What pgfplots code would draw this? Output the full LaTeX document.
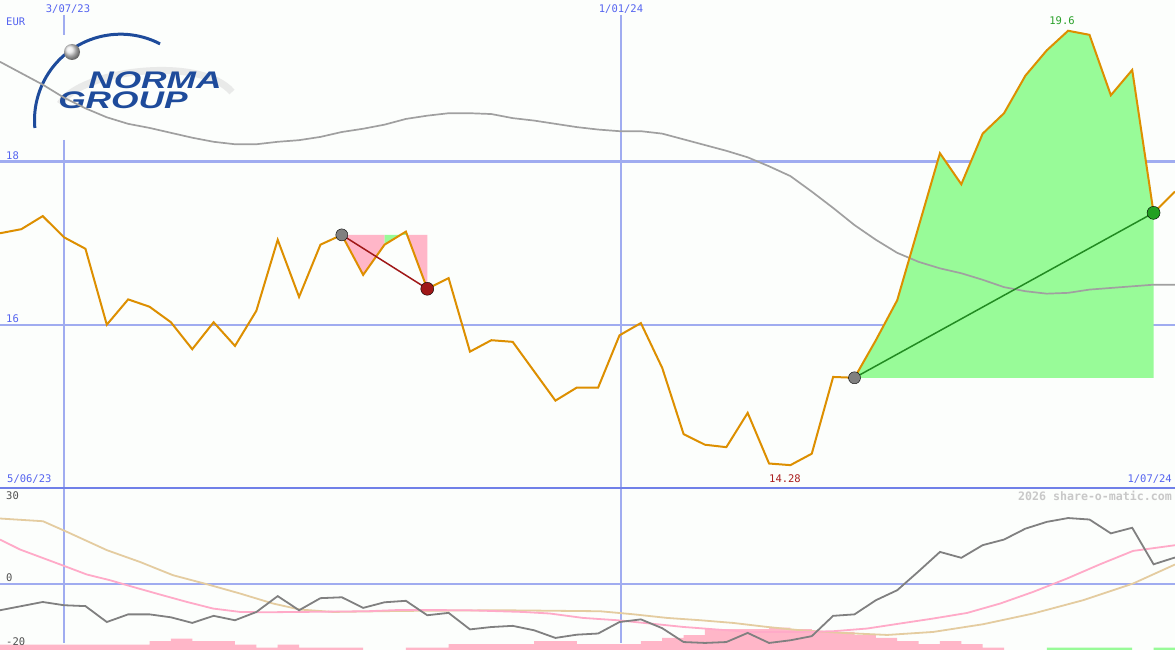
\documentclass[border=0pt]{standalone}
\usepackage{pgfplots}
\pgfplotsset{compat=1.18}
\usepackage{pgfplotstable}
\usepackage{fontspec}
\setmainfont{DejaVu Sans}
\newfontfamily\mono{DejaVu Sans Mono}
\newfontfamily\logofont{Liberation Sans}
\definecolor{price}{RGB}{221,143,0}
\definecolor{ma}{RGB}{160,160,160}
\definecolor{gridl}{RGB}{160,172,240}
\definecolor{sep}{RGB}{112,128,232}
\definecolor{lbl}{RGB}{85,100,240}
\definecolor{gfill}{RGB}{152,251,152}
\definecolor{pfill}{RGB}{255,182,200}
\definecolor{gline}{RGB}{34,139,34}
\definecolor{gdot}{RGB}{34,160,34}
\definecolor{rline}{RGB}{160,24,24}
\definecolor{osc}{RGB}{128,128,128}
\definecolor{pinkl}{RGB}{255,170,200}
\definecolor{tanl}{RGB}{228,204,160}
\definecolor{logob}{RGB}{30,75,155}
\definecolor{bg}{RGB}{252,254,252}
\definecolor{lowred}{RGB}{170,30,30}
\definecolor{higreen}{RGB}{40,160,40}
\definecolor{wm}{RGB}{200,200,200}
\definecolor{lowlbl}{RGB}{80,80,80}

\pgfplotstableread{
i p m o
0 17.12 19.22 -9.0
1 17.17 19.08 -7.6
2 17.33 18.94 -6.2
3 17.07 18.78 -7.3
4 16.93 18.65 -7.6
5 16.00 18.54 -13.0
6 16.31 18.46 -10.4
7 16.22 18.41 -10.4
8 16.03 18.35 -11.4
9 15.70 18.29 -13.3
10 16.03 18.24 -10.9
11 15.74 18.21 -12.4
12 16.17 18.21 -9.6
13 17.04 18.24 -4.2
14 16.34 18.26 -9.0
15 16.98 18.30 -4.9
16 17.10 18.36 -4.6
17 16.61 18.40 -8.2
18 16.98 18.45 -6.3
19 17.14 18.52 -5.8
20 16.44 18.56 -10.7
21 16.57 18.59 -9.9
22 15.67 18.59 -15.5
23 15.81 18.58 -14.7
24 15.79 18.53 -14.3
25 15.43 18.50 -15.8
26 15.07 18.46 -18.4
27 15.23 18.42 -17.3
28 15.23 18.39 -16.9
29 15.87 18.37 -13.0
30 16.02 18.37 -12.1
31 15.47 18.34 -15.1
32 14.66 18.27 -19.8
33 14.53 18.20 -20.1
34 14.50 18.13 -19.8
35 14.92 18.05 -16.7
36 14.30 17.94 -20.1
37 14.28 17.82 -19.2
38 14.42 17.63 -17.8
39 15.36 17.43 -10.9
40 15.35 17.22 -10.4
41 15.81 17.04 -5.6
42 16.30 16.88 -2.2
43 17.20 16.77 4.2
44 18.10 16.69 10.8
45 17.72 16.63 8.8
46 18.34 16.55 13.1
47 18.59 16.46 15.0
48 19.05 16.41 18.7
49 19.36 16.38 21.0
50 19.60 16.39 22.3
51 19.55 16.43 21.8
52 18.81 16.45 17.1
53 19.12 16.47 19.0
54 17.37 16.49 6.6
55 17.63 16.49 8.9
}\weekly

\begin{document}
\begin{tikzpicture}
\useasboundingbox (0pt,0pt) rectangle (1175pt,-650pt);
\fill[bg] (0pt,0pt) rectangle (1175pt,-650pt);
% grid
\draw[gridl, line width=2.2pt] (0pt,-161.4pt) -- (1175pt,-161.4pt);
\draw[gridl, line width=2.2pt] (0pt,-324.7pt) -- (1175pt,-324.7pt);
\draw[gridl, line width=2pt] (0pt,-583.7pt) -- (1175pt,-583.7pt);
\draw[gridl, line width=2pt] (64pt,-15pt) -- (64pt,-35pt);
\draw[gridl, line width=2pt] (64pt,-140pt) -- (64pt,-643pt);
\draw[gridl, line width=1.2pt] (621pt,-15pt) -- (621pt,-643pt);
\draw[sep, line width=2.5pt] (0pt,-488pt) -- (1175pt,-488pt);

% logo
\draw[gray!20, line width=7pt, opacity=0.8] (60pt,-104pt) .. controls (80pt,-70pt) and (200pt,-55pt) .. (232pt,-92pt);
\draw[logob, line width=3pt] (120.5pt,-120.2pt) ++(62.6:86pt) arc[start angle=62.6, end angle=185.2, radius=86pt];
\shade[ball color=white!80!gray] (72pt,-52pt) circle (8pt);
\node[logob, inner sep=0pt, align=left, font=\logofont\bfseries\itshape\fontsize{24}{20}\selectfont, xscale=1.47, anchor=north west] at (58pt,-71.5pt) {\hspace*{20.4pt}NORMA\\GROUP};

\begin{axis}[at={(0pt,0pt)}, anchor=north west, scale only axis,
  width=1175pt, height=488pt, xmin=0, xmax=55, ymin=14, ymax=19.9767,
  axis lines=none, ticks=none]
\addplot[fill=gfill, draw=none] coordinates {(40,15.35) (41,15.81) (42,16.30) (43,17.20) (44,18.10) (45,17.72) (46,18.34) (47,18.59) (48,19.05) (49,19.36) (50,19.60) (51,19.55) (52,18.81) (53,19.12) (54,17.37) (54,15.35)};
\addplot[fill=pfill, draw=none] coordinates {(16,17.10) (17,16.61) (18,16.98) (18,17.10)};
\addplot[fill=gfill, draw=none] coordinates {(18,16.98) (19,17.14) (19,17.10) (18,17.10)};
\addplot[fill=pfill, draw=none] coordinates {(19,17.14) (20,16.44) (20,17.10) (19,17.10)};
\addplot[ma, line width=1.7pt] table[x=i, y=m] {\weekly};
\addplot[price, line width=2pt] table[x=i, y=p] {\weekly};
\addplot[rline, line width=1.5pt] coordinates {(16,17.10) (20,16.44)};
\addplot[gline, line width=1.5pt] coordinates {(40,15.35) (54,17.37)};
\addplot[only marks, mark=*, mark size=6pt, mark options={fill=gray, draw=none}] coordinates {(16,17.10) (40,15.35)};
\addplot[only marks, mark=*, mark size=6.5pt, mark options={fill=rline, draw=none}] coordinates {(20,16.44)};
\addplot[only marks, mark=*, mark size=6.5pt, mark options={fill=gdot, draw=none}] coordinates {(54,17.37)};
\end{axis}

\begin{axis}[at={(0pt,-488pt)}, anchor=north west, scale only axis,
  width=1175pt, height=162pt, xmin=0, xmax=55, ymin=-22.5, ymax=32.5,
  axis lines=none, ticks=none]
\addplot[const plot, fill=pfill, draw=none] coordinates {(0,-22.5) (0,-20.65) (7,-19.52) (8,-18.61) (9,-19.52) (11,-20.65) (12,-21.66) (13,-20.65) (14,-21.66) (17,-22.5) (19,-21.66) (21,-20.54) (25,-19.52) (27,-20.54) (30,-19.52) (31,-18.40) (32,-17.49) (33,-15.45) (36,-14.87) (37,-15.45) (38,-16.37) (40,-17.49) (41,-18.40) (42,-19.52) (43,-20.54) (44,-19.52) (45,-20.54) (46,-21.66) (47,-22.5)};
\addplot[const plot, fill=gfill, draw=none] coordinates {(49,-22.5) (49,-21.66) (53,-22.5)};
\addplot[const plot, fill=gfill, draw=none] coordinates {(54,-22.5) (54,-21.66) (55,-22.5)};
\addplot[tanl, line width=1.8pt] coordinates {(0,22.14) (2.01,21.22) (3.14,17.59) (5.01,11.38) (6.55,7.40) (8.10,2.89) (9.69,-0.17) (11.24,-3.33) (12.78,-6.72) (14.04,-8.76) (15.59,-9.58) (18.73,-9.24) (23.41,-9.0) (28.09,-9.34) (29.63,-10.36) (31.23,-11.61) (32.77,-12.39) (34.32,-13.31) (35.91,-14.67) (37.45,-15.79) (39.47,-16.71) (41.53,-17.39) (43.68,-16.37) (46.02,-13.75) (48.36,-10.12) (50.70,-5.60) (53.04,0.07) (55,6.52)};
\addplot[pinkl, line width=1.8pt] coordinates {(0,15.01) (0.94,11.61) (1.87,9.10) (3.04,5.94) (4.07,3.12) (5.15,1.19) (6.23,-1.09) (7.49,-3.67) (8.75,-6.18) (9.97,-8.42) (11.24,-9.58) (12.5,-9.68) (14.04,-9.58) (17.18,-9.34) (18.73,-8.90) (21.86,-9.0) (24.49,-9.58) (25.75,-10.12) (27.29,-11.61) (28.89,-12.39) (30.43,-13.51) (31.98,-14.67) (33.57,-15.55) (35.11,-16.37) (37.45,-16.37) (39.0,-16.13) (40.59,-15.21) (42.13,-13.51) (43.68,-11.82) (45.27,-9.92) (46.82,-6.72) (48.36,-2.78) (49.95,1.77) (51.50,6.62) (53.04,11.14) (55,13.07)};
\addplot[osc, line width=1.8pt] table[x=i, y=o] {\weekly};
\end{axis}

% labels
\begin{scope}[every node/.style={font=\mono\fontsize{10.5}{12}\selectfont, inner sep=0pt}]
\node[lbl] at (68pt,-9pt) {3/07/23};
\node[lbl] at (621pt,-9pt) {1/01/24};
\node[lbl, anchor=west] at (6pt,-21.5pt) {EUR};
\node[lbl, anchor=west] at (6pt,-155.5pt) {18};
\node[lbl, anchor=west] at (6pt,-319pt) {16};
\node[lbl, anchor=west] at (7pt,-479pt) {5/06/23};
\node[lbl, anchor=east] at (1172pt,-479pt) {1/07/24};
\node[lowred] at (785pt,-479pt) {14.28};
\node[higreen] at (1062pt,-21pt) {19.6};
\node[wm, anchor=east, font=\mono\bfseries\fontsize{11.6}{13}\selectfont] at (1172pt,-496pt) {2026 share-o-matic.com};
\node[lowlbl, anchor=west] at (6pt,-496pt) {30};
\node[lowlbl, anchor=west] at (6pt,-578pt) {0};
\node[lowlbl, anchor=west] at (6pt,-642pt) {-20};
\end{scope}
\end{tikzpicture}
\end{document}
